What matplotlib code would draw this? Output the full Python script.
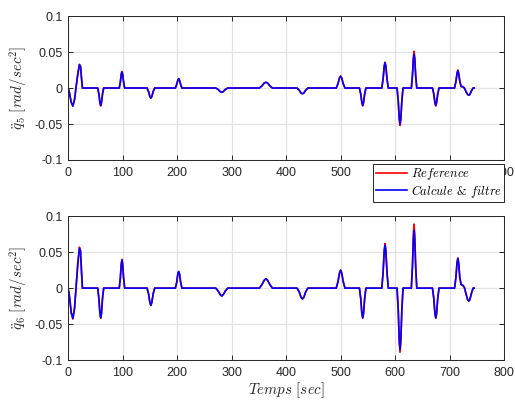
import numpy as np
import matplotlib
matplotlib.use('Agg')
import matplotlib.pyplot as plt

# time breakpoints (sec), shared by all series
t = [0, 2, 4, 6, 9, 12, 15, 18, 21, 23, 25, 26.5,
     54.5, 56.7, 58.6, 60, 61.4, 63.3, 65.5,
     94, 96, 97.75, 99, 100.25, 102, 104,
     145, 147.8, 150.25, 152, 153.75, 156.2, 159,
     197, 199.4, 201.5, 203, 204.5, 206.6, 209,
     271, 275.4, 279.25, 282, 284.75, 288.6, 293,
     351, 355.8, 360, 363, 366, 370.2, 375,
     420, 424, 427.5, 430, 432.5, 436, 440,
     492, 495.2, 498, 500, 502, 504.8, 508,
     534.5, 536.9, 539, 540.5, 542, 544.1, 546.5,
     575.5, 577.9, 580, 581.5, 583, 585.1, 587.5,
     603.5, 605.7, 607.6, 609, 610.4, 612.3, 614.5,
     629.7, 631.7, 633.45, 634.7, 635.95, 637.7, 639.7,
     668.5, 670.9, 673, 674.5, 676, 678.1, 680.5,
     709, 711.5, 713.5, 715, 716.5, 718.5, 721, 724, 727, 730, 733, 735, 737, 740, 743, 745]

# joint 5 acceleration (rad/sec^2)
q5_ref = [0, -0.004, -0.012, -0.020, -0.025, -0.016, 0.002, 0.020, 0.033, 0.030, 0.012, 0,
          0, -0.009, -0.021, -0.025, -0.021, -0.009, 0,
          0, 0.008, 0.020, 0.023, 0.020, 0.008, 0,
          0, -0.005, -0.012, -0.014, -0.012, -0.005, 0,
          0, 0.005, 0.011, 0.013, 0.011, 0.005, 0,
          0, -0.002, -0.005, -0.006, -0.005, -0.002, 0,
          0, 0.003, 0.007, 0.008, 0.007, 0.003, 0,
          0, -0.003, -0.007, -0.008, -0.007, -0.003, 0,
          0, 0.006, 0.014, 0.017, 0.014, 0.006, 0,
          0, -0.009, -0.021, -0.025, -0.021, -0.009, 0,
          0, 0.013, 0.031, 0.036, 0.031, 0.013, 0,
          0, -0.018, -0.044, -0.052, -0.044, -0.018, 0,
          0, 0.018, 0.043, 0.051, 0.043, 0.018, 0,
          0, -0.009, -0.021, -0.025, -0.021, -0.009, 0,
          0, 0.009, 0.021, 0.025, 0.021, 0.010, 0.002, 0.002, 0.000, -0.005, -0.009, -0.010, -0.009, -0.004, 0, 0]
q5_filt = [0, -0.004, -0.012, -0.020, -0.025, -0.016, 0.002, 0.019, 0.032, 0.030, 0.012, 0,
           0, -0.008, -0.020, -0.024, -0.020, -0.008, 0,
           0, 0.008, 0.019, 0.022, 0.019, 0.008, 0,
           0, -0.005, -0.012, -0.014, -0.012, -0.005, 0,
           0, 0.005, 0.011, 0.013, 0.011, 0.005, 0,
           0, -0.002, -0.005, -0.006, -0.005, -0.002, 0,
           0, 0.003, 0.007, 0.008, 0.007, 0.003, 0,
           0, -0.003, -0.007, -0.008, -0.007, -0.003, 0,
           0, 0.006, 0.014, 0.016, 0.014, 0.006, 0,
           0, -0.008, -0.020, -0.024, -0.020, -0.008, 0,
           0, 0.012, 0.030, 0.035, 0.030, 0.012, 0,
           0, -0.018, -0.043, -0.050, -0.043, -0.018, 0,
           0, 0.016, 0.040, 0.047, 0.040, 0.016, 0,
           0, -0.008, -0.020, -0.024, -0.020, -0.008, 0,
           0, 0.009, 0.020, 0.024, 0.020, 0.010, 0.002, 0.002, 0.000, -0.005, -0.009, -0.010, -0.009, -0.004, 0, 0]

# joint 6 acceleration (rad/sec^2)
q6_ref = [0, -0.007, -0.021, -0.035, -0.043, -0.028, 0.003, 0.035, 0.057, 0.052, 0.020, 0,
          0, -0.015, -0.036, -0.042, -0.036, -0.015, 0,
          0, 0.014, 0.034, 0.040, 0.034, 0.014, 0,
          0, -0.008, -0.020, -0.024, -0.020, -0.008, 0,
          0, 0.008, 0.020, 0.023, 0.020, 0.008, 0,
          0, -0.004, -0.009, -0.011, -0.009, -0.004, 0,
          0, 0.005, 0.011, 0.013, 0.011, 0.005, 0,
          0, -0.005, -0.013, -0.015, -0.013, -0.005, 0,
          0, 0.009, 0.021, 0.025, 0.021, 0.009, 0,
          0, -0.015, -0.036, -0.042, -0.036, -0.015, 0,
          0, 0.022, 0.053, 0.062, 0.053, 0.022, 0,
          0, -0.031, -0.076, -0.089, -0.076, -0.031, 0,
          0, 0.031, 0.076, 0.089, 0.076, 0.031, 0,
          0, -0.015, -0.036, -0.042, -0.036, -0.015, 0,
          0, 0.015, 0.036, 0.042, 0.036, 0.015, 0.005, 0.004, 0.001, -0.008, -0.016, -0.018, -0.016, -0.007, 0, 0]
q6_filt = [0, -0.007, -0.020, -0.034, -0.042, -0.028, 0.002, 0.033, 0.055, 0.051, 0.020, 0,
           0, -0.014, -0.035, -0.041, -0.035, -0.014, 0,
           0, 0.014, 0.033, 0.039, 0.033, 0.014, 0,
           0, -0.008, -0.020, -0.024, -0.020, -0.008, 0,
           0, 0.008, 0.020, 0.023, 0.020, 0.008, 0,
           0, -0.004, -0.009, -0.011, -0.009, -0.004, 0,
           0, 0.005, 0.011, 0.013, 0.011, 0.005, 0,
           0, -0.005, -0.013, -0.015, -0.013, -0.005, 0,
           0, 0.009, 0.021, 0.025, 0.021, 0.009, 0,
           0, -0.014, -0.035, -0.041, -0.035, -0.014, 0,
           0, 0.021, 0.051, 0.060, 0.051, 0.021, 0,
           0, -0.030, -0.072, -0.085, -0.072, -0.030, 0,
           0, 0.028, 0.068, 0.080, 0.068, 0.028, 0,
           0, -0.014, -0.035, -0.041, -0.035, -0.014, 0,
           0, 0.015, 0.035, 0.041, 0.035, 0.015, 0.005, 0.004, 0.001, -0.008, -0.016, -0.018, -0.016, -0.007, 0, 0]

xticks  = [0, 100, 200, 300, 400, 500, 600, 700, 800]
yticks  = [-0.1, -0.05, 0, 0.05, 0.1]
ylabels = ['-0.1', '-0.05', '0', '0.05', '0.1']

plt.rcParams['mathtext.fontset'] = 'cm'
plt.rcParams['font.family'] = ['Liberation Sans', 'DejaVu Sans']

fig = plt.figure(figsize=(5.15, 4.01), dpi=100)
fig.patch.set_facecolor('white')

def style(ax, ylab):
    ax.set_xlim(0, 800)
    ax.set_ylim(-0.1, 0.1)
    ax.set_xticks(xticks)
    ax.set_xticklabels([str(v) for v in xticks])
    ax.set_yticks(yticks)
    ax.set_yticklabels(ylabels)
    ax.tick_params(direction='in', length=3.5, width=0.7, top=True, right=True,
                   labelsize=9, colors='#262626')
    ax.tick_params(axis='x', pad=5)
    ax.tick_params(axis='y', pad=4)
    ax.grid(True, color='#e3e3e3', linewidth=0.9)
    ax.set_axisbelow(True)
    for s in ax.spines.values():
        s.set_color('#262626')
        s.set_linewidth(0.7)
    ax.set_ylabel(ylab, fontsize=10.8, color='#262626', labelpad=3)

ax1 = fig.add_axes([0.132, 0.601, 0.847, 0.359])
ax1.plot(t, q5_ref, color='#ff0000', lw=1.2, label='$Reference$')
ax1.plot(t, q5_filt, color='#0000ff', lw=1.2, label='$Calcule$ & $filtre$')
style(ax1, '$\\ddot{q}_5\\ [rad/sec^2]$')

leg = ax1.legend(loc='upper right', bbox_to_anchor=(1.0, -0.025),
                 prop={'family': 'cmr10', 'size': 9},
                 frameon=True, fancybox=False, framealpha=1, edgecolor='#262626',
                 handlelength=2.5, borderpad=0.2, labelspacing=0.05, handletextpad=0.3,
                 borderaxespad=0)
leg.get_frame().set_linewidth(0.7)
leg.set_zorder(10)

ax2 = fig.add_axes([0.132, 0.102, 0.847, 0.359])
ax2.plot(t, q6_ref, color='#ff0000', lw=1.2)
ax2.plot(t, q6_filt, color='#0000ff', lw=1.2)
style(ax2, '$\\ddot{q}_6\\ [rad/sec^2]$')
ax2.set_xlabel('$Temps\\ [sec]$', fontsize=10.8, color='#262626', labelpad=1)

fig.savefig('out.png', dpi=100)
